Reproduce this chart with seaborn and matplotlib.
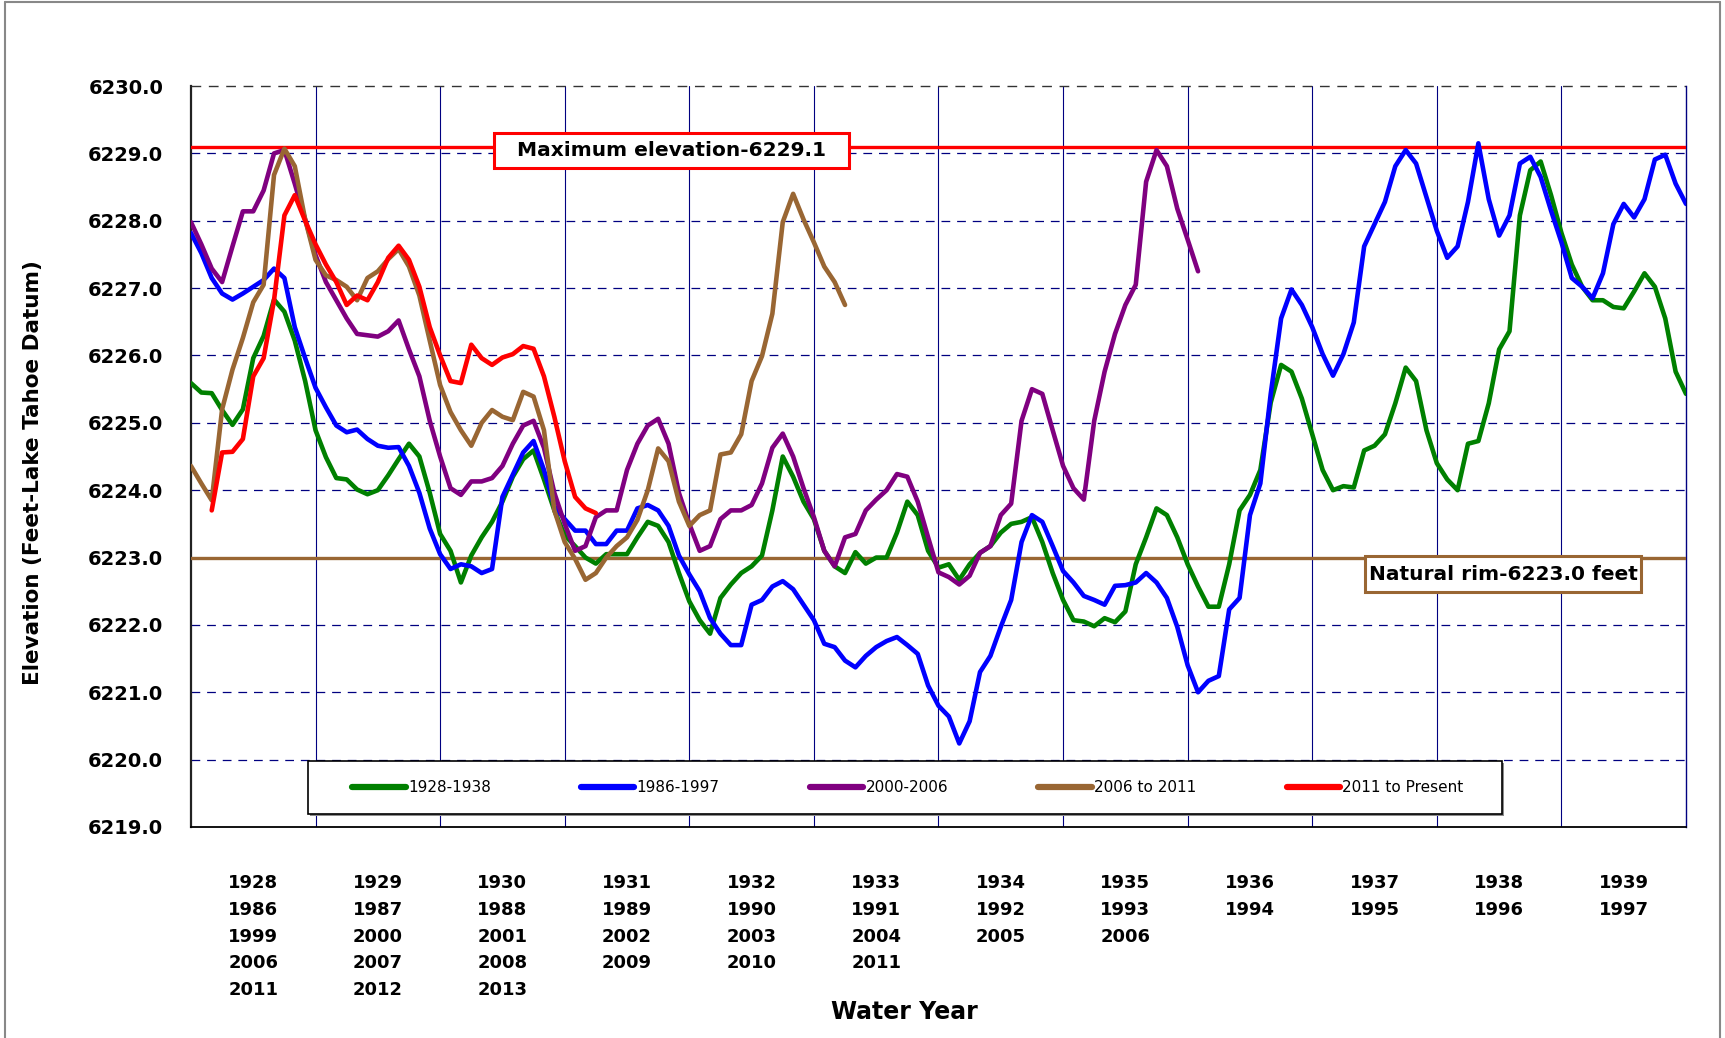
import numpy as np
import pandas as pd
import seaborn as sns
import matplotlib.pyplot as plt
from matplotlib.patches import Rectangle
from matplotlib.lines import Line2D

# Lake Tahoe elevation (ft, Lake Tahoe datum), one reading per month from Oct 1
elev_1928_1938 = [
    6225.59, 6225.45, 6225.44, 6225.19, 6224.97, 6225.20, 6225.96, 6226.29, 6226.83, 6226.65, 6226.22, 6225.62,
    6224.89, 6224.49, 6224.18, 6224.16, 6224.01, 6223.94, 6224.00, 6224.22, 6224.46, 6224.69, 6224.50, 6223.96,
    6223.35, 6223.10, 6222.63, 6223.03, 6223.30, 6223.53, 6223.83, 6224.20, 6224.46, 6224.59, 6224.16, 6223.70,
    6223.33, 6223.17, 6223.00, 6222.91, 6223.05, 6223.05, 6223.05, 6223.30, 6223.53, 6223.47, 6223.23, 6222.77,
    6222.35, 6222.07, 6221.87, 6222.40, 6222.60, 6222.77, 6222.87, 6223.03, 6223.70, 6224.50, 6224.20, 6223.83,
    6223.57, 6223.10, 6222.87, 6222.77, 6223.08, 6222.91, 6223.00, 6223.00, 6223.37, 6223.83, 6223.63, 6223.10,
    6222.85, 6222.90, 6222.67, 6222.90, 6223.07, 6223.17, 6223.37, 6223.50, 6223.53, 6223.60, 6223.23, 6222.77,
    6222.37, 6222.07, 6222.05, 6221.98, 6222.10, 6222.04, 6222.20, 6222.90, 6223.30, 6223.73, 6223.63, 6223.30,
    6222.90, 6222.57, 6222.27, 6222.27, 6222.90, 6223.70, 6223.93, 6224.30, 6225.30, 6225.86, 6225.76, 6225.36,
    6224.83, 6224.30, 6224.00, 6224.06, 6224.04, 6224.59, 6224.66, 6224.83, 6225.29, 6225.82, 6225.62, 6224.89,
    6224.40, 6224.16, 6224.00, 6224.69, 6224.73, 6225.29, 6226.09, 6226.36, 6228.08, 6228.75, 6228.88, 6228.38,
    6227.82, 6227.35, 6227.02, 6226.82, 6226.82, 6226.72, 6226.70, 6226.95, 6227.22, 6227.02, 6226.55, 6225.76,
    6225.43,
]
elev_1986_1997 = [
    6227.82, 6227.52, 6227.15, 6226.92, 6226.83, 6226.92, 6227.02, 6227.12, 6227.29, 6227.15, 6226.42, 6225.96,
    6225.52, 6225.23, 6224.96, 6224.86, 6224.90, 6224.76, 6224.66, 6224.63, 6224.64, 6224.36, 6223.96, 6223.43,
    6223.05, 6222.83, 6222.90, 6222.87, 6222.77, 6222.83, 6223.90, 6224.23, 6224.56, 6224.73, 6224.30, 6223.76,
    6223.57, 6223.40, 6223.40, 6223.20, 6223.20, 6223.40, 6223.40, 6223.73, 6223.78, 6223.70, 6223.47, 6223.03,
    6222.75, 6222.50, 6222.10, 6221.87, 6221.70, 6221.70, 6222.30, 6222.37, 6222.57, 6222.65, 6222.53, 6222.30,
    6222.07, 6221.72, 6221.67, 6221.47, 6221.37, 6221.54, 6221.67, 6221.76, 6221.82, 6221.70, 6221.57, 6221.10,
    6220.80, 6220.64, 6220.24, 6220.57, 6221.30, 6221.54, 6221.97, 6222.37, 6223.23, 6223.63, 6223.53, 6223.17,
    6222.80, 6222.63, 6222.43, 6222.37, 6222.30, 6222.58, 6222.59, 6222.63, 6222.77, 6222.63, 6222.40, 6221.97,
    6221.40, 6221.00, 6221.17, 6221.24, 6222.23, 6222.40, 6223.63, 6224.10, 6225.43, 6226.55, 6226.98, 6226.75,
    6226.42, 6226.02, 6225.70, 6226.02, 6226.49, 6227.62, 6227.95, 6228.28, 6228.81, 6229.05, 6228.85, 6228.35,
    6227.85, 6227.45, 6227.62, 6228.28, 6229.15, 6228.32, 6227.78, 6228.08, 6228.85, 6228.95, 6228.65, 6228.15,
    6227.68, 6227.15, 6227.02, 6226.85, 6227.22, 6227.95, 6228.25, 6228.05, 6228.32, 6228.91, 6228.98, 6228.55,
    6228.25,
]
elev_2000_2006 = [
    6227.98, 6227.65, 6227.29, 6227.09, 6227.62, 6228.14, 6228.14, 6228.45, 6229.00, 6229.05, 6228.55, 6228.02,
    6227.49, 6227.09, 6226.82, 6226.55, 6226.32, 6226.30, 6226.28, 6226.36, 6226.52, 6226.09, 6225.69, 6225.03,
    6224.50, 6224.03, 6223.93, 6224.13, 6224.13, 6224.18, 6224.36, 6224.69, 6224.96, 6225.03, 6224.63, 6223.96,
    6223.50, 6223.10, 6223.17, 6223.60, 6223.70, 6223.70, 6224.30, 6224.69, 6224.96, 6225.06, 6224.69, 6223.96,
    6223.50, 6223.10, 6223.17, 6223.57, 6223.70, 6223.70, 6223.78, 6224.10, 6224.63, 6224.84, 6224.50, 6224.03,
    6223.60, 6223.10, 6222.87, 6223.30, 6223.35, 6223.70, 6223.86, 6224.00, 6224.24, 6224.20, 6223.83, 6223.30,
    6222.78, 6222.71, 6222.60, 6222.73, 6223.07, 6223.17, 6223.63, 6223.80, 6225.03, 6225.50, 6225.43, 6224.89,
    6224.36, 6224.03, 6223.86, 6225.03, 6225.76, 6226.32, 6226.75, 6227.05, 6228.58, 6229.05, 6228.81, 6228.18,
    6227.72, 6227.25,
]
elev_2006_2011 = [
    6224.36, 6224.10, 6223.85, 6225.20, 6225.79, 6226.26, 6226.79, 6227.05, 6228.68, 6229.07, 6228.81, 6228.02,
    6227.42, 6227.19, 6227.12, 6227.02, 6226.82, 6227.15, 6227.25, 6227.43, 6227.58, 6227.32, 6226.89, 6226.22,
    6225.56, 6225.16, 6224.89, 6224.66, 6225.00, 6225.19, 6225.09, 6225.04, 6225.46, 6225.39, 6224.89, 6223.70,
    6223.23, 6222.98, 6222.67, 6222.77, 6223.00, 6223.17, 6223.30, 6223.56, 6224.00, 6224.62, 6224.43, 6223.83,
    6223.47, 6223.63, 6223.70, 6224.53, 6224.56, 6224.83, 6225.62, 6225.99, 6226.62, 6227.98, 6228.40, 6228.02,
    6227.68, 6227.32, 6227.09, 6226.75,
]
# 2011 to present starts in December of the first water year
elev_2011_on = [
    6223.70, 6224.56, 6224.57, 6224.76, 6225.69, 6225.96, 6226.82, 6228.08, 6228.38, 6228.00,
    6227.65, 6227.35, 6227.09, 6226.75, 6226.89, 6226.82, 6227.09, 6227.45, 6227.63, 6227.42, 6227.02, 6226.42,
    6226.00, 6225.62, 6225.59, 6226.16, 6225.96, 6225.86, 6225.97, 6226.02, 6226.14, 6226.10, 6225.69, 6225.09,
    6224.43, 6223.90, 6223.73, 6223.66,
]

periods = ["1928-1938", "1986-1997", "2000-2006", "2006 to 2011", "2011 to Present"]
series = [elev_1928_1938, elev_1986_1997, elev_2000_2006, elev_2006_2011, elev_2011_on]
first_month = [0, 0, 0, 0, 2]
colors = ["#008000", "#0000FF", "#800080", "#996633", "#FF0000"]

year_labels = [
    ["1928", "1986", "1999", "2006", "2011"],
    ["1929", "1987", "2000", "2007", "2012"],
    ["1930", "1988", "2001", "2008", "2013"],
    ["1931", "1989", "2002", "2009"],
    ["1932", "1990", "2003", "2010"],
    ["1933", "1991", "2004", "2011"],
    ["1934", "1992", "2005"],
    ["1935", "1993", "2006"],
    ["1936", "1994"],
    ["1937", "1995"],
    ["1938", "1996"],
    ["1939", "1997"],
]

MAX_ELEV = 6229.1
RIM_ELEV = 6223.0
NAVY = "#000080"

frames = []
for name, vals, start in zip(periods, series, first_month):
    frames.append(pd.DataFrame({
        "month": np.arange(len(vals)) + start,
        "elevation": vals,
        "period": name,
    }))
df = pd.concat(frames, ignore_index=True)

sns.set_style("white")
plt.rcParams.update({"text.color": "black", "xtick.color": "black",
                     "ytick.color": "black", "axes.labelcolor": "black"})

fig, ax = plt.subplots(figsize=(17.25, 10.38), dpi=100)
fig.subplots_adjust(left=0.1107, right=0.9774, bottom=0.2033, top=0.9171)

# grid: solid verticals at each water year, dashed horizontals each foot
for m in range(12, 144, 12):
    ax.axvline(m, color=NAVY, lw=0.8, zorder=1)
for v in range(6220, 6230):
    ax.axhline(v, color=NAVY, lw=0.9, ls=(0, (7, 5.5)), zorder=1)
ax.axhline(6230, color="#333333", lw=1.0, ls=(0, (7, 5.5)), zorder=1, clip_on=False)

ax.axhline(MAX_ELEV, color="#FF0000", lw=2.4, zorder=3)
ax.axhline(RIM_ELEV, color="#996633", lw=2.4, zorder=3)

sns.lineplot(data=df, x="month", y="elevation", hue="period", hue_order=periods,
             palette=colors, linewidth=3.3, sort=False, estimator=None,
             legend=False, ax=ax, zorder=4)

ax.set_xlim(0, 144)
ax.set_ylim(6219, 6230)
ax.set_yticks(range(6219, 6231))
ax.set_yticklabels([f"{v:.1f}" for v in range(6219, 6231)], fontweight="bold")
ax.set_xticks(np.arange(6, 144, 12))
ax.set_xticklabels(["\n".join(y) for y in year_labels], fontweight="bold", linespacing=1.62)
ax.tick_params(axis="y", length=0, pad=20, labelsize=14)
ax.tick_params(axis="x", length=0, pad=34, labelsize=13)
ax.set_xlabel("")
ax.set_ylabel("")

ax.spines["top"].set_visible(False)
ax.spines["left"].set_color("#222222")
ax.spines["left"].set_linewidth(1.6)
ax.spines["bottom"].set_color("black")
ax.spines["bottom"].set_linewidth(1.3)
ax.spines["right"].set_color(NAVY)
ax.spines["right"].set_linewidth(1.0)

# legend box with a grey drop edge
ax.add_patch(Rectangle((0.0795, 0.0145), 0.799, 0.0715, transform=ax.transAxes,
                       fc="#8c8c8c", ec="none", zorder=5.5))
ax.add_patch(Rectangle((0.078, 0.0175), 0.799, 0.0715, transform=ax.transAxes,
                       fc="white", ec="black", lw=1.2, zorder=6))
handles = [Line2D([], [], color=c, lw=4.5) for c in colors]
leg = ax.legend(handles, periods, loc="center", bbox_to_anchor=(0.4795, 0.053),
                ncol=5, frameon=False, fontsize=11, handlelength=3.5,
                handletextpad=0.15, columnspacing=5.9)
leg.set_zorder(7)

# labelled reference lines
ax.add_patch(Rectangle((0.2027, 0.8893), 0.2374, 0.0473, transform=ax.transAxes,
                       fc="white", ec="#FF0000", lw=2.2, zorder=8))
ax.text(0.3214, 0.913, "Maximum elevation-6229.1", transform=ax.transAxes,
        ha="center", va="center", fontsize=14.5, fontweight="bold", zorder=9)
ax.add_patch(Rectangle((0.7853, 0.3171), 0.1846, 0.0486, transform=ax.transAxes,
                       fc="white", ec="#996633", lw=2.2, zorder=8))
ax.text(0.8776, 0.3414, "Natural rim-6223.0 feet", transform=ax.transAxes,
        ha="center", va="center", fontsize=14.5, fontweight="bold", zorder=9)

fig.text(0.0191, 0.5443, "Elevation (Feet-Lake Tahoe Datum)", rotation=90,
         ha="center", va="center", fontsize=15.5, fontweight="bold")
fig.text(0.524, 0.025, "Water Year", ha="center", va="center",
         fontsize=17, fontweight="bold")

# outer chart frame
for xs, ys in [([0.003, 0.003], [0, 0.998]), ([0.003, 0.997], [0.998, 0.998]),
               ([0.997, 0.997], [0, 0.998])]:
    fig.add_artist(Line2D(xs, ys, transform=fig.transFigure, color="#888888", lw=1.5))

fig.savefig("out.png", dpi=100)
